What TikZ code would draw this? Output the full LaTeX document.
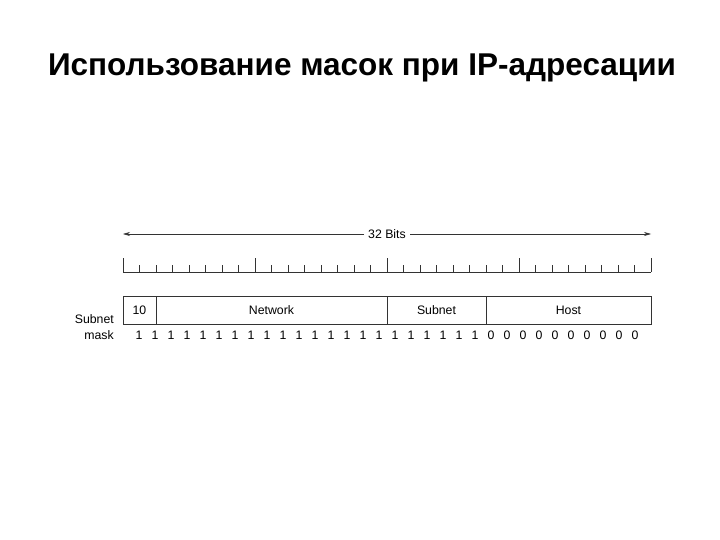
\documentclass[tikz,border=0pt]{standalone}
\usepackage{fontspec}
\setmainfont{Liberation Sans}
\usetikzlibrary{arrows.meta}
\begin{document}
\begin{tikzpicture}[x=1pt,y=-1pt,
  lbl/.style={font=\fontsize{12.3}{13}\selectfont, inner sep=1pt},
  rul/.style={line width=0.8pt, black!80},
  thin/.style={line width=0.6pt, black!80}]
\useasboundingbox (0,0) rectangle (720,540);
\node[anchor=center, font=\fontsize{31.5}{34}\bfseries\selectfont] (title) at (362,68) {Использование масок при IP-адресации};
% 32 bits arrow
\coordinate (al) at (123,234);
\coordinate (ar) at (651,234);
\node[lbl, fill=white, inner xsep=4pt] (bits) at (387,234) {32 Bits};
\draw[thin, -{Stealth[length=7pt,width=4pt]}] (bits.west) -- (al);
\draw[thin, -{Stealth[length=7pt,width=4pt]}] (bits.east) -- (ar);
% ruler
\coordinate (r0) at (123,272);
\coordinate (r1) at (651,272);
\draw[rul] (r0) -- (r1);
\foreach \i in {0,...,32}{
  \pgfmathsetmacro{\xx}{123+16.5*\i}
  \pgfmathtruncatemacro{\m}{mod(\i,8)}
  \ifnum\m=0
    \draw[rul] (\xx,272) -- (\xx,258);
  \else
    \draw[thin] (\xx,272) -- (\xx,265);
  \fi
}
% address box
\draw[rul] (123,296) rectangle (651,324);
\draw[rul] (156,296) -- (156,324);
\draw[rul] (387,296) -- (387,324);
\draw[rul] (486,296) -- (486,324);
\node[lbl] (f10) at (139.5,310) {10};
\node[lbl] (fnet) at (271.5,310) {Network};
\node[lbl] (fsub) at (436.5,310) {Subnet};
\node[lbl] (fhost) at (568.5,310) {Host};
% label
\node[lbl, anchor=east, align=right] (sm1) at (115,319) {Subnet};
\node[lbl, anchor=east] (sm2) at (115,335) {mask};
% mask bits
\foreach \i in {0,...,31}{
  \pgfmathsetmacro{\xx}{139+16*\i}
  \ifnum\i<22
    \node[lbl] (b\i) at (\xx,335) {1};
  \else
    \node[lbl] (b\i) at (\xx,335) {0};
  \fi
}
\end{tikzpicture}
\end{document}
